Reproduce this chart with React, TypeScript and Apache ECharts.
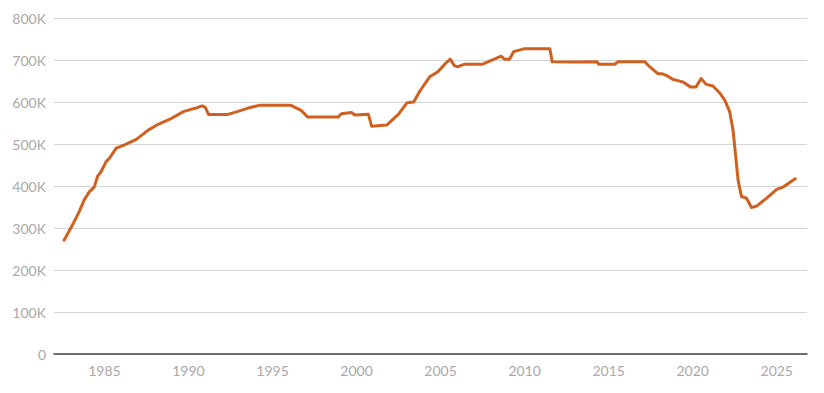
import React, { useEffect, useRef } from "react";
import * as echarts from "echarts";

const years: number[] = [
  1982.6, 1983.2, 1983.5, 1983.8, 1984.1, 1984.4, 1984.6, 1984.8, 1985.1, 1985.3,
  1985.7, 1986.2, 1986.9, 1987.6, 1988.2, 1988.9, 1989.7, 1990.2, 1990.4, 1990.8,
  1991.0, 1991.2, 1992.3, 1992.9, 1993.5, 1994.2, 1996.1, 1996.7, 1997.1, 1998.9,
  1999.1, 1999.7, 1999.9, 2000.7, 2000.9, 2001.8, 2002.1, 2002.5, 2003.0, 2003.4,
  2003.75, 2004.35, 2004.84, 2005.34, 2005.57, 2005.83, 2006.03, 2006.43, 2007.5, 2008.3,
  2008.6, 2008.8, 2009.1, 2009.35, 2010.0, 2011.5, 2011.64, 2012.9, 2014.3, 2014.4,
  2015.36, 2015.56, 2017.14, 2017.44, 2017.94, 2018.2, 2018.5, 2018.8, 2019.4, 2019.86,
  2020.2, 2020.5, 2020.8, 2021.2, 2021.6, 2021.9, 2022.2, 2022.4, 2022.56, 2022.7,
  2022.9, 2023.2, 2023.5, 2023.8, 2024.4, 2025.0, 2025.4, 2026.1,
];

const values: number[] = [
  271000, 315000, 339000, 367000, 386000, 398000, 424000, 434000, 458000, 466000,
  490000, 498000, 511000, 533000, 547000, 559000, 577000, 583000, 585000, 591000,
  587000, 570000, 570000, 577000, 585000, 592000, 592000, 580000, 564000, 564000,
  572000, 575000, 569000, 571000, 542000, 545000, 556000, 571000, 598000, 600000,
  625000, 660000, 672000, 694000, 702000, 686000, 684000, 690000, 690000, 704000,
  709000, 702000, 702000, 720000, 727000, 727000, 696000, 695000, 696000, 690000,
  690000, 696000, 696000, 684000, 667000, 667000, 662000, 654000, 648000, 636000,
  636000, 656000, 642000, 638000, 622000, 605000, 577000, 533000, 470000, 414000,
  375000, 371000, 349000, 352000, 371000, 392000, 398000, 417000,
];

const xTickYears: number[] = [1985, 1990, 1995, 2000, 2005, 2010, 2015, 2020, 2025];

export default function App() {
  const ref = useRef<HTMLDivElement>(null);
  useEffect(() => {
    document.body.style.margin = "0";
    if (!ref.current) return;
    const chart = echarts.init(ref.current, null, { renderer: "svg" });
    const labelColor = "#a9a9a9";
    chart.setOption({
      animation: false,
      backgroundColor: "#ffffff",
      grid: { left: 54, right: 17, top: 18, bottom: 39, containLabel: false },
      xAxis: {
        type: "value",
        min: 1982,
        max: 2026.8,
        axisLine: { show: true, lineStyle: { color: "#444444", width: 1.5 } },
        axisTick: { show: false },
        splitLine: { show: false },
        axisLabel: {
          customValues: xTickYears,
          color: labelColor,
          fontFamily: "Lato",
          fontSize: 14,
          margin: 9,
          formatter: (v: number) => String(Math.round(v)),
        },
      },
      yAxis: {
        type: "value",
        min: 0,
        max: 800000,
        interval: 100000,
        axisLine: { show: false },
        axisTick: { show: false },
        splitLine: { show: true, lineStyle: { color: "#d4d4d4", width: 1 } },
        axisLabel: {
          color: labelColor,
          fontFamily: "Lato",
          fontSize: 14,
          margin: 8,
          formatter: (v: number) => (v === 0 ? "0" : `${v / 1000}K`),
        },
      },
      series: [
        {
          type: "line",
          data: years.map((y, i) => [y, values[i]]),
          showSymbol: false,
          symbol: "none",
          lineStyle: { color: "#d0601f", width: 3, join: "round", cap: "round" },
          z: 3,
        },
      ],
    });
    return () => chart.dispose();
  }, []);
  return <div ref={ref} style={{ width: 824, height: 393 }} />;
}
